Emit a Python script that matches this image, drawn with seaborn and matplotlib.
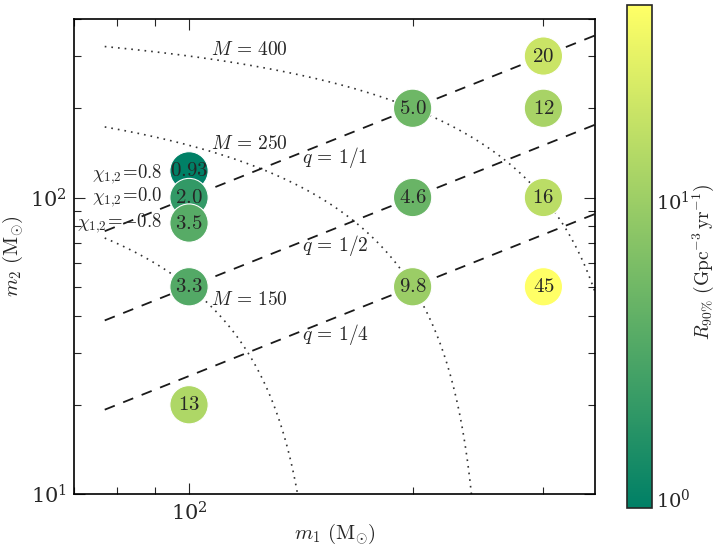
import matplotlib
matplotlib.use("Agg")
import matplotlib.pyplot as plt
import matplotlib.colors as mcolors
import matplotlib.ticker as mticker
import numpy as np
import pandas as pd
import seaborn as sns

# injection grid (m1, m2 in solar masses) and 90% rate upper limits
m1_vals = [100, 100, 100, 100, 100, 200, 200, 200, 300, 300, 300, 300]
m2_vals = [123, 100, 82, 50, 20, 200, 100, 50, 300, 200, 100, 50]
rate_vals = [0.93, 2.0, 3.5, 3.3, 13, 5.0, 4.6, 9.8, 20, 12, 16, 45]
rate_text = ["0.93", "2.0", "3.5", "3.3", "13", "5.0", "4.6", "9.8", "20", "12", "16", "45"]

spin_labels = [r"$\chi_{1{,}2}\!=\!0.8$", r"$\chi_{1{,}2}\!=\!0.0$", r"$\chi_{1{,}2}\!=\!{-}0.8$"]
spin_m2 = [120, 100, 82]

total_masses = [400, 250, 150]
mass_ratios = [1, 2, 4]
q_text = ["1/1", "1/2", "1/4"]

sns.set_theme(style="ticks")
plt.rcParams["mathtext.fontset"] = "cm"
plt.rcParams["font.family"] = ["DejaVu Serif"]

df = pd.DataFrame({"m1": m1_vals, "m2": m2_vals, "rate": rate_vals, "txt": rate_text})

fig = plt.figure(figsize=(7.21, 5.46), dpi=100)
ax = fig.add_axes([0.1026, 0.0952, 0.7226, 0.870])
cax = fig.add_axes([0.8696, 0.0696, 0.0347, 0.921])

norm = mcolors.LogNorm(vmin=min(rate_vals), vmax=max(rate_vals))
cmap = plt.get_cmap("summer")

ax.set_xscale("log")
ax.set_yscale("log")
ax.set_xlim(70, 352)
ax.set_ylim(10, 400)

# guide lines: constant total mass (dotted) and constant mass ratio (dashed)
m1_line = np.linspace(77, 360, 400)
for M in total_masses:
    m2_line = M - m1_line
    ok = m2_line > 9.5
    ax.plot(m1_line[ok], m2_line[ok], ls=(0, (1, 3)), color="0.2", lw=1.2, zorder=1)
for q in mass_ratios:
    ax.plot(m1_line, m1_line / q, ls=(0, (6, 5)), color="0.1", lw=1.3, zorder=1)

sns.scatterplot(data=df, x="m1", y="m2", hue="rate", hue_norm=norm, palette=cmap,
                s=760, edgecolor="white", linewidth=0.8, legend=False, ax=ax, zorder=3)
for _, r in df.iterrows():
    ax.text(r["m1"], r["m2"], "$" + r["txt"] + "$", ha="center", va="center",
            fontsize=15, zorder=4)

for lab, y in zip(spin_labels, spin_m2):
    ax.text(92, y, lab, ha="right", va="center", fontsize=13.5)

for M, y in zip(total_masses, [314, 152, 45]):
    ax.text(107, y, r"$M\,=\,%d$" % M, ha="left", va="center", fontsize=14)
for qt, y in zip(q_text, [136, 69, 34.5]):
    ax.text(142, y, r"$q\,=\,%s$" % qt, ha="left", va="center", fontsize=14)

ax.set_xlabel(r"$m_1\ (\mathrm{M}_{\odot})$", fontsize=15)
ax.xaxis.set_label_coords(0.5, -0.058)
ax.set_ylabel(r"$m_2\ (\mathrm{M}_{\odot})$", fontsize=15, labelpad=4)
ax.xaxis.set_major_locator(mticker.LogLocator(base=10))
ax.xaxis.set_minor_locator(mticker.FixedLocator([70, 80, 90, 200, 300]))
ax.xaxis.set_minor_formatter(mticker.NullFormatter())
ax.yaxis.set_minor_formatter(mticker.NullFormatter())
ax.tick_params(which="both", direction="in", top=True, right=True, labelsize=15, pad=5)
ax.tick_params(which="major", length=8, width=0.8)
ax.tick_params(which="minor", length=5, width=0.8)
for sp in ax.spines.values():
    sp.set_linewidth(1.2)
    sp.set_color("black")

sm = plt.cm.ScalarMappable(norm=norm, cmap=cmap)
cb = fig.colorbar(sm, cax=cax)
cb.set_label(r"$R_{90\%}\ (\mathrm{Gpc}^{-3}\,\mathrm{yr}^{-1})$", fontsize=14)
cb.ax.yaxis.set_label_coords(3.05, 0.49)
cb.ax.yaxis.label.set_verticalalignment("center")
cb.ax.yaxis.set_minor_locator(mticker.NullLocator())
cb.ax.tick_params(labelsize=14, length=4, direction="in", pad=3)
cb.outline.set_linewidth(1.2)

fig.savefig("out.png", dpi=100, facecolor="white")
